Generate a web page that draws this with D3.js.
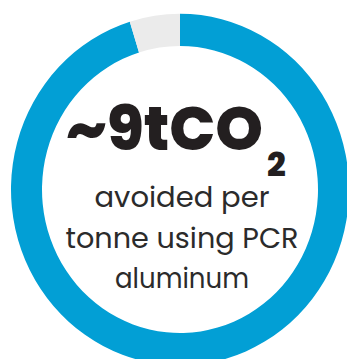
<!DOCTYPE html>
<html>
<head>
<meta charset="utf-8">
<script src="https://cdn.jsdelivr.net/npm/d3@7"></script>
<style>
  html, body { margin: 0; padding: 0; background: #ffffff; overflow: hidden; }
  svg { display: block; }
</style>
</head>
<body>
<svg id="chart" width="347" height="359"></svg>
<script>
// Data
const segments = ["Avoided", "Remaining"];
const shares = [95.2, 4.8];
const segmentColors = ["#029fd5", "#ebebeb"];
const headline = "~9tCO";
const headlineSub = "2";
const captionLines = ["avoided per", "tonne using PCR", "aluminum"];

const svg = d3.select("#chart");
const cx = 180, cy = 189.5, rOuter = 169, rInner = 138, yStretch = 1.04;

const pie = d3.pie().sort(null).value(d => d.v).startAngle(0).endAngle(2 * Math.PI);
const arc = d3.arc().innerRadius(rInner).outerRadius(rOuter);
const data = segments.map((s, i) => ({ name: s, v: shares[i] }));

const ring = svg.append("g")
  .attr("transform", `translate(${cx},${cy}) scale(1,${yStretch})`);
ring.selectAll("path")
  .data(pie(data))
  .join("path")
  .attr("d", arc)
  .attr("fill", (d, i) => segmentColors[i]);

// Headline
const h = svg.append("text")
  .attr("x", 66)
  .attr("y", 150)
  .attr("fill", "#231f20")
  .attr("font-family", "Poppins, 'DejaVu Sans', sans-serif")
  .attr("font-weight", 800);
h.append("tspan")
  .attr("font-size", 61)
  .attr("textLength", 197)
  .attr("lengthAdjust", "spacingAndGlyphs")
  .text(headline);
h.append("tspan")
  .attr("x", 267)
  .attr("y", 176)
  .attr("font-size", 33)
  .text(headlineSub);

// Caption
const capWidths = [175, 233, 134];
svg.append("g").selectAll("text")
  .data(captionLines)
  .join("text")
  .attr("x", 182)
  .attr("y", (d, i) => 207 + i * 40.5)
  .attr("text-anchor", "middle")
  .attr("fill", "#2b2b2b")
  .attr("font-family", "Poppins, 'DejaVu Sans', sans-serif")
  .attr("font-size", 28)
  .attr("textLength", (d, i) => capWidths[i])
  .attr("lengthAdjust", "spacingAndGlyphs")
  .text(d => d);
</script>
</body>
</html>
